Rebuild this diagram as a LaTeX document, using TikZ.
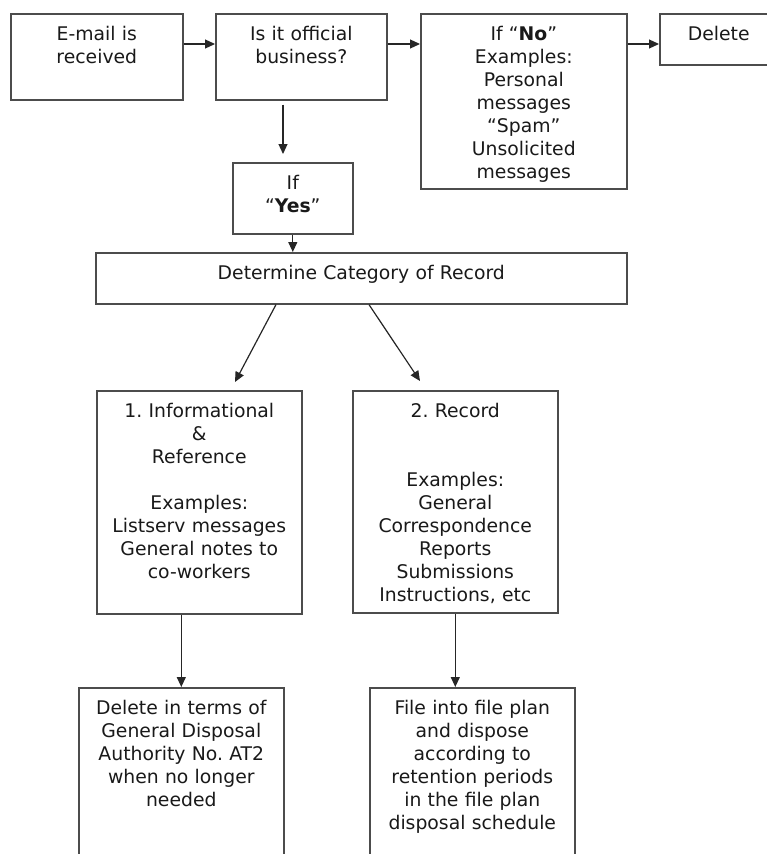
\documentclass[tikz,border=0pt]{standalone}
\usepackage{fontspec}
\setmainfont{DejaVu Sans}
\usetikzlibrary{arrows.meta}
\frenchspacing

\tikzset{
    stage/.style 2 args={draw=black!70, line width=1.6pt, anchor=north west,
        align=center, text width=#1pt, inner sep=0pt,
        text height=27pt, text depth=#2pt, text=black!90,
        font=\fontsize{18.8}{23}\selectfont},
    flow/.style={draw=black!85, line width=1.2pt, -{Triangle[length=10pt,width=9pt]}}
}

\begin{document}
\begin{tikzpicture}[x=1pt, y=-1pt]
    \useasboundingbox (0,0) rectangle (767,854);

    % Top row: the mail comes in and is sorted
    \node[stage={172}{59}] (mail) at (10,13) {E-mail is\\received};
    \node[stage={171}{59}] (official) at (215,13) {Is it official\\business?};
    \node[stage={206}{148}] (no) at (420,13) {If “\textbf{No}”\\Examples:\\Personal\\messages\\“Spam”\\Unsolicited\\messages};
    \node[stage={118}{24}] (del) at (659,13) {Delete};

    % Official business goes down
    \node[stage={120}{44}] (yes) at (232,162) {If\\“\textbf{Yes}”};
    \node[stage={531}{24}] (cat) at (95,252) {Determine Category of Record};

    % The two categories
    \node[stage={205}{196}] (info) at (96,390) {1. Informational\\\&\\Reference\\[23pt]Examples:\\Listserv messages\\General notes to\\co-workers};
    \node[stage={205}{195}] (rec) at (352,390) {2. Record\\[46pt]Examples:\\General\\Correspondence\\Reports\\Submissions\\Instructions, etc};

    % What to do with each (boxes run off the bottom)
    \node[stage={205}{166}] (gda) at (78,687) {Delete in terms of\\General Disposal\\Authority No. AT2\\when no longer\\needed};
    \node[stage={205}{166}] (plan) at (369,687) {File into file plan\\and dispose\\according to\\retention periods\\in the file plan\\disposal schedule};

    % Arrows along the top row
    \foreach \a/\b in {mail/official, official/no, no/del} {
        \draw[flow] ([yshift=-31pt]\a.north east) -- ([yshift=-31pt]\b.north west);
    }

    % Down to "Yes" and on to the category
    \coordinate (yestip) at (283,154);
    \draw[flow, shorten <=4pt] (yestip |- official.south) -- (yestip);
    \draw[flow] (yes.south) -- (yes.south |- cat.north);

    % Split into the two categories
    \coordinate (infotip) at (235,382);
    \coordinate (rectip) at (420,381);
    \draw[flow] ([xshift=181pt]cat.south west) -- (infotip);
    \draw[flow] ([xshift=274pt]cat.south west) -- (rectip);

    % Down to the disposal boxes
    \draw[flow] (gda.north |- info.south) -- (gda.north);
    \draw[flow] (rec.south) -- (rec.south |- plan.north);
\end{tikzpicture}
\end{document}
